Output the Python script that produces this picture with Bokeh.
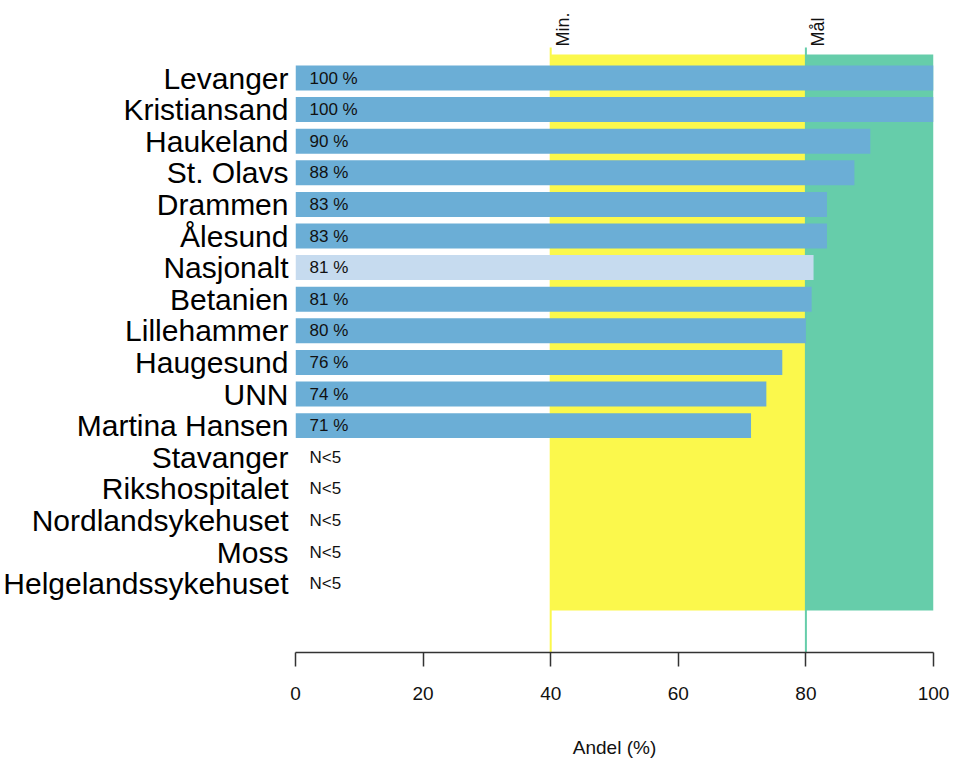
import math
from bokeh.plotting import figure
from bokeh.models import Range1d, FixedTicker, ColumnDataSource
from bokeh.embed import file_html
from bokeh.resources import INLINE
from bokeh.core.properties import value

# ---- data ----
hospitals = ["Levanger", "Kristiansand", "Haukeland", "St. Olavs", "Drammen", "Ålesund",
             "Nasjonalt", "Betanien", "Lillehammer", "Haugesund", "UNN", "Martina Hansen",
             "Stavanger", "Rikshospitalet", "Nordlandsykehuset", "Moss", "Helgelandssykehuset"]
andel = [100.0, 100.0, 90.1, 87.6, 83.3, 83.3, 81.2, 80.9, 80.0, 76.3, 73.8, 71.4,
         None, None, None, None, None]
value_labels = ["100 %", "100 %", "90 %", "88 %", "83 %", "83 %", "81 %", "81 %", "80 %",
                "76 %", "74 %", "71 %", "N<5", "N<5", "N<5", "N<5", "N<5"]
min_level = 40
goal_level = 80
level_names = ["Min.", "Mål"]
x_ticks = [0, 20, 40, 60, 80, 100]
national = "Nasjonalt"

FONT = "Liberation Sans"
BAR = "#6baed6"
BAR_NAT = "#c6dbef"
YELLOW = "#fbf84c"
GREEN = "#66cdaa"

n = len(hospitals)
rows = list(range(n))
y_top = -2.4525
y_bottom = 18.18
line_top = -0.965
zone_top = -0.744
zone_bottom = n - 0.15

p = figure(width=955, height=760, output_backend="svg", toolbar_location=None,
           x_range=Range1d(0, 100), y_range=Range1d(y_bottom, y_top),
           min_border_left=294, min_border_right=22, min_border_top=0, min_border_bottom=108)
p.outline_line_color = None
p.xgrid.visible = False
p.ygrid.visible = False
p.background_fill_color = "white"

# target zones
p.quad(left=[min_level], right=[goal_level], top=[zone_top], bottom=[zone_bottom],
       fill_color=YELLOW, line_color=None)
p.quad(left=[goal_level], right=[100], top=[zone_top], bottom=[zone_bottom],
       fill_color=GREEN, line_color=None)
p.segment(x0=[min_level, goal_level], x1=[min_level, goal_level],
          y0=[line_top, line_top], y1=[y_bottom, y_bottom],
          line_color=[YELLOW, GREEN], line_width=2)

# level labels
p.text(x=[min_level, goal_level], y=[line_top, line_top], text=level_names,
       angle=math.pi / 2, text_align="left", text_baseline="top", x_offset=2, y_offset=-1,
       text_font=value(FONT), text_font_size="18px", text_color="#111111")

# bars
bar_rows = [r for r, v in zip(rows, andel) if v is not None]
bar_vals = [v for v in andel if v is not None]
bar_cols = [BAR_NAT if hospitals[r] == national else BAR for r in bar_rows]
src = ColumnDataSource(dict(y=bar_rows, right=bar_vals, color=bar_cols))
p.hbar(y="y", left=0, right="right", height=0.79, fill_color="color", line_color=None, source=src)

# value labels
p.text(x=[2.2] * n, y=rows, text=value_labels, text_font=value(FONT), text_font_size="17px",
       text_align="left", text_baseline="middle", text_color="#111111")

# y axis (hospital names)
ya = p.yaxis[0]
ya.ticker = FixedTicker(ticks=rows)
ya.major_label_overrides = {r: h for r, h in zip(rows, hospitals)}
ya.axis_line_color = None
ya.major_tick_line_color = None
ya.minor_tick_line_color = None
ya.major_tick_out = 0
ya.major_tick_in = 0
ya.major_label_standoff = 7
ya.major_label_text_font = FONT
ya.major_label_text_font_size = "30px"
ya.major_label_text_color = "black"

# x axis
xa = p.xaxis[0]
xa.ticker = FixedTicker(ticks=x_ticks)
xa.axis_line_color = "#333333"
xa.major_tick_line_color = "#333333"
xa.axis_line_width = 1.5
xa.major_tick_line_width = 1.5
xa.minor_tick_line_color = None
xa.major_tick_out = 14
xa.major_tick_in = 0
xa.major_label_standoff = 20
xa.major_label_text_font = FONT
xa.major_label_text_font_size = "19px"
xa.major_label_text_color = "#111111"
xa.axis_label = "Andel (%)"
xa.axis_label_text_font = FONT
xa.axis_label_text_font_size = "19px"
xa.axis_label_text_font_style = "normal"
xa.axis_label_text_color = "#111111"
xa.axis_label_standoff = 34

open("out.html", "w").write(file_html(p, INLINE))
